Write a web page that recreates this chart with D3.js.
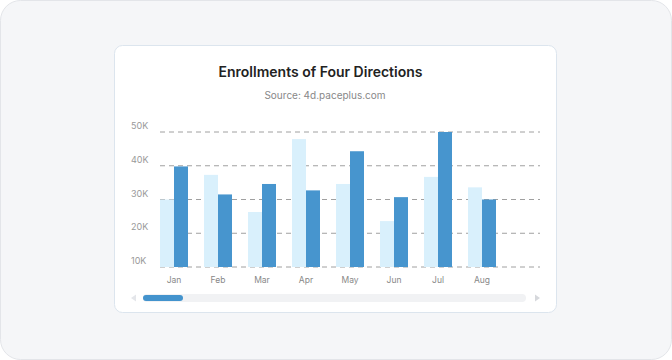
<!DOCTYPE html>
<html><head><meta charset="utf-8">
<script src="https://cdn.jsdelivr.net/npm/d3@7"></script>
<style>html,body{margin:0;padding:0;background:#fff;}svg{display:block;font-family:Inter,"Noto Sans",sans-serif;}</style>
</head><body>
<svg id="c" width="672" height="360"></svg>
<script>
const months = ["Jan","Feb","Mar","Apr","May","Jun","Jul","Aug"];
const seriesA = [30000,37300,26300,47900,34600,23600,36700,33600];
const seriesB = [39800,31500,34600,32700,44300,30700,50000,30000];
const yTicks = [10000,20000,30000,40000,50000];
const yTickLabels = ["10K","20K","30K","40K","50K"];

const svg = d3.select("#c");
svg.append("rect").attr("x",0.5).attr("y",0.5).attr("width",671).attr("height",359)
  .attr("rx",20).attr("fill","#f5f6f8").attr("stroke","#e3e5e9");
svg.append("rect").attr("x",114.5).attr("y",45.5).attr("width",442).attr("height",267)
  .attr("rx",8).attr("fill","#fff").attr("stroke","#dce5ee");

svg.append("text").attr("x",320.5).attr("y",77).attr("text-anchor","middle")
  .attr("font-size",14).attr("font-weight",600).attr("fill","#222").text("Enrollments of Four Directions");
svg.append("text").attr("x",325).attr("y",99).attr("text-anchor","middle")
  .attr("font-size",10).attr("fill","#888").text("Source: 4d.paceplus.com");

const y = d3.scaleLinear().domain([10000,50000]).range([267,132]);
const x = d3.scaleBand().domain(months).range([152,152+44*8]).paddingInner(0).paddingOuter(0);
const inner = d3.scaleBand().domain([0,1]).range([0,28]);
const offset = (x.bandwidth()-28)/2;

// grid
svg.append("g").selectAll("line").data(yTicks).join("line")
  .attr("x1",160).attr("x2",540).attr("y1",d=>y(d)).attr("y2",d=>y(d))
  .attr("stroke","#a0a0a0").attr("stroke-width",1).attr("stroke-dasharray","5,4");
svg.append("g").selectAll("text").data(yTicks).join("text")
  .attr("x",131).attr("y",d=>y(d)-3).attr("font-size",9).attr("fill","#999")
  .text((d,i)=>yTickLabels[i]);

const g = svg.append("g");
[seriesA,seriesB].forEach((s,si)=>{
  g.append("g").selectAll("rect").data(s).join("rect")
    .attr("x",(d,i)=>x(months[i])+offset+inner(si))
    .attr("width",inner.bandwidth())
    .attr("y",d=>y(d)).attr("height",d=>y(10000)-y(d))
    .attr("fill",si===0?"#d9f0fc":"#4795ce");
});

const xAxis = svg.append("g").attr("transform","translate(0,267)")
  .call(d3.axisBottom(x).tickSize(0).tickPadding(10));
xAxis.select(".domain").remove();
xAxis.selectAll("text").attr("font-size",8.5).attr("fill","#888").attr("font-family","Inter,'Noto Sans',sans-serif");

// scrollbar
svg.append("rect").attr("x",143).attr("y",294).attr("width",383).attr("height",8).attr("rx",4).attr("fill","#f1f2f4");
svg.append("rect").attr("x",143).attr("y",295).attr("width",40).attr("height",6).attr("rx",3).attr("fill","#4393cd");
svg.append("path").attr("d","M136,294.5 L131,298 L136,301.5 Z").attr("fill","#e4e6ea");
svg.append("path").attr("d","M535,294.5 L540,298 L535,301.5 Z").attr("fill","#d6d8dc");
</script>
</body></html>
